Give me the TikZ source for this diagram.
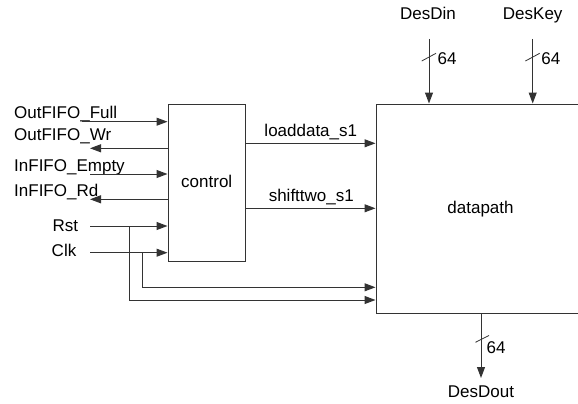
\documentclass[tikz,border=0pt]{standalone}
\usepackage{fontspec}
\setmainfont{Liberation Sans}
\usetikzlibrary{arrows.meta}
\begin{document}
\begin{tikzpicture}[x=1pt,y=-1pt, font=\fontsize{17}{20}\selectfont,
  wire/.style={line width=1pt, draw=black!80},
  arr/.style={wire, -{Triangle[length=11pt,width=8pt]}},
  box/.style={draw=black!80, line width=1pt, rectangle, inner sep=0pt},
  lbl/.style={inner sep=0pt, anchor=base west},
  lblr/.style={inner sep=0pt, anchor=base east},
  lblc/.style={inner sep=0pt, anchor=base},
  slash/.style={line width=0.8pt, draw=black!80},
]
\useasboundingbox (0,0) rectangle (578,404);
% boxes
\node[box, minimum width=77.5pt, minimum height=157pt] (ctrl) at (206.75,183) {};
\node[lblc] (ctrltxt) at (206.75,187.3) {control};
\node[box, minimum width=224pt, minimum height=209pt] (dp) at (488,208.5) {};
\node[lblc] (dptxt) at (480.5,213.3) {datapath};
% left labels
\node[lbl] (tFull) at (14,118.3) {OutFIFO\_Full};
\node[lbl] (tWr) at (14,140.7) {OutFIFO\_Wr};
\node[lbl] (tEmpty) at (14,171.7) {InFIFO\_Empty};
\node[lbl] (tRd) at (14,196.7) {InFIFO\_Rd};
\node[lblr] (tRst) at (78.3,231) {Rst};
\node[lblr] (tClk) at (76.5,256.7) {Clk};
% left connector ends
\coordinate (pFull) at (82,121.7);
\coordinate (pWr) at (90,148.3);
\coordinate (pEmpty) at (90,174);
\coordinate (pRd) at (90,199.3);
\coordinate (pRst) at (90,226);
\coordinate (pClk) at (90,252.7);
\coordinate (bRst) at (129.3,226);
\coordinate (bClk) at (142.5,252.7);
\coordinate (cRst) at (129.3,300);
\coordinate (cClk) at (142.5,287.3);
\draw[arr] (pFull) -- (pFull -| ctrl.west);
\draw[arr] (pWr -| ctrl.west) -- (pWr);
\draw[arr] (pEmpty) -- (pEmpty -| ctrl.west);
\draw[arr] (pRd -| ctrl.west) -- (pRd);
\draw[arr] (pRst) -- (pRst -| ctrl.west);
\draw[arr] (pClk) -- (pClk -| ctrl.west);
\draw[arr] (bRst) -- (cRst) -- (cRst -| dp.west);
\draw[arr] (bClk) -- (cClk) -- (cClk -| dp.west);
% control -> datapath
\coordinate (pLoad) at (245.5,143.3);
\coordinate (pShift) at (245.5,208.3);
\draw[arr] (pLoad -| ctrl.east) -- (pLoad -| dp.west);
\draw[arr] (pShift -| ctrl.east) -- (pShift -| dp.west);
\node[lblc] (tLoad) at (310.8,136) {loaddata\_s1};
\node[lblc] (tShift) at (311.3,201) {shifttwo\_s1};
% top inputs
\coordinate (pDin) at (429,39);
\coordinate (pKey) at (532.7,39);
\draw[arr] (pDin) -- (pDin |- dp.north);
\draw[arr] (pKey) -- (pKey |- dp.north);
\node[lblc] (tDin) at (428,20) {DesDin};
\node[lblc] (tKey) at (532.7,20) {DesKey};
\draw[slash] (421.7,61) -- (436,53.3);
\draw[slash] (525.4,61) -- (539.7,53.3);
\node[lbl] (n64a) at (437.5,64) {64};
\node[lbl] (n64b) at (541.2,64) {64};
% output
\coordinate (pDout) at (481,378);
\draw[arr] (pDout |- dp.south) -- (pDout);
\draw[slash] (475.5,342.3) -- (489,335.5);
\node[lbl] (n64c) at (486.5,353) {64};
\node[lblc] (tDout) at (481,397.3) {DesDout};
\end{tikzpicture}
\end{document}
